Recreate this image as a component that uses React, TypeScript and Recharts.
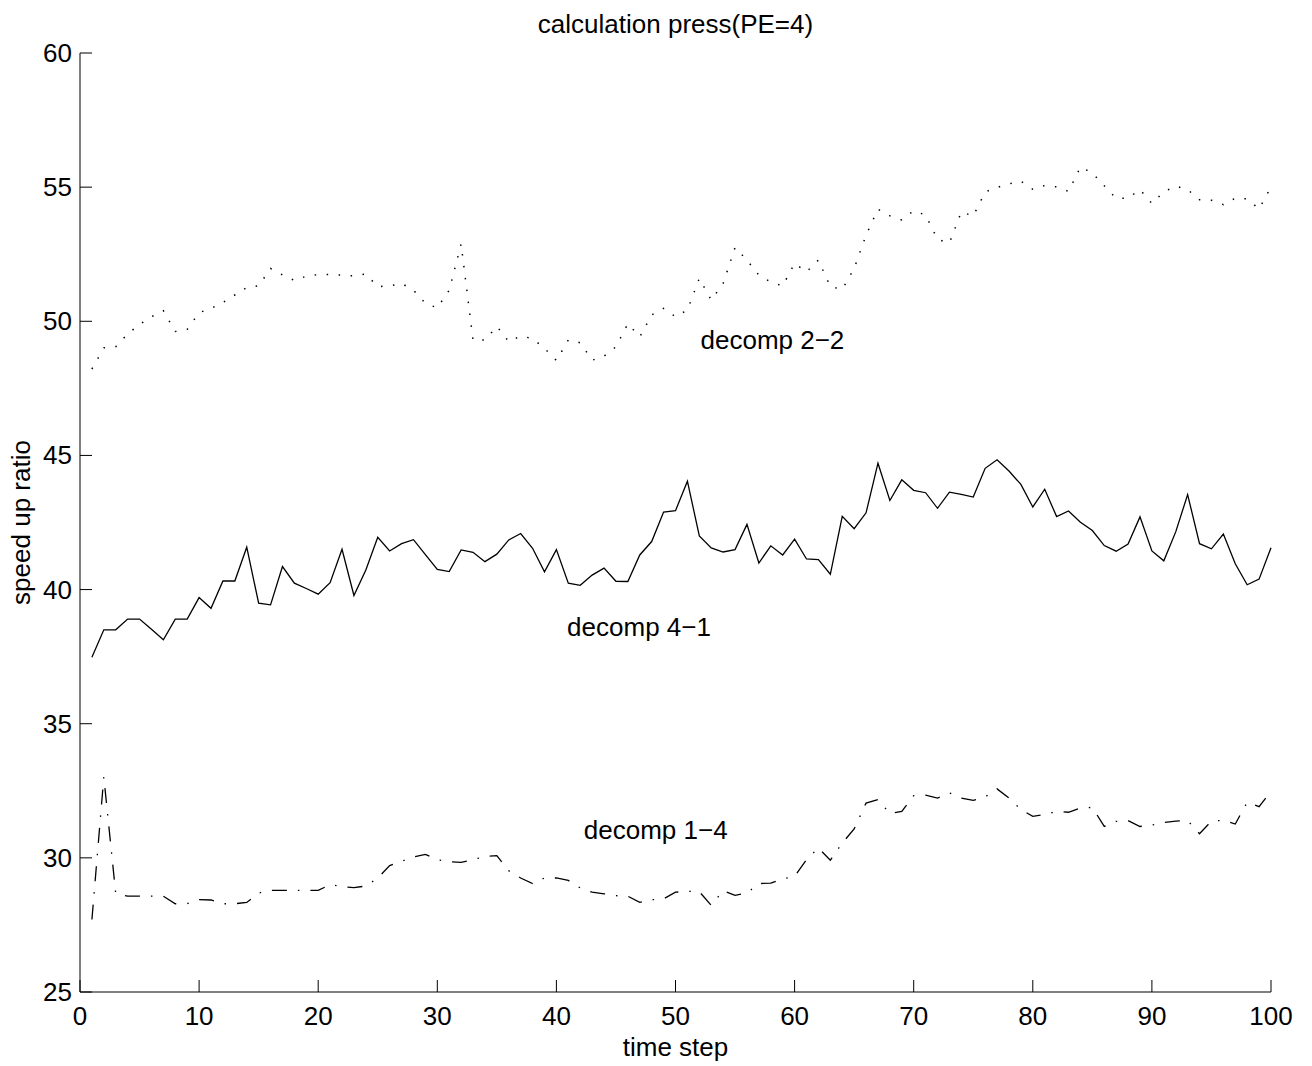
import React from 'react'
import { LineChart, Line, XAxis, YAxis, ReferenceDot, Label } from 'recharts'

const FONT = '"Liberation Sans", Arial, Helvetica, sans-serif'

// time steps 1..100
const steps = Array.from({ length: 100 }, (_, i) => i + 1)

const decomp22 = [
  48.22, 49.01, 49.05, 49.53, 49.88, 50.17, 50.39, 49.62, 49.70, 50.32,
  50.48, 50.70, 50.98, 51.26, 51.32, 51.97, 51.73, 51.52, 51.68, 51.74,
  51.74, 51.72, 51.69, 51.76, 51.29, 51.32, 51.41, 51.16, 50.67, 50.50,
  51.16, 52.88, 49.30, 49.30, 49.81, 49.24, 49.45, 49.36, 48.99, 48.54,
  49.30, 49.20, 48.55, 48.70, 49.05, 49.91, 49.42, 50.24, 50.48, 50.17,
  50.42, 51.60, 50.79, 51.41, 52.75, 52.28, 51.72, 51.46, 51.32, 52.16,
  51.84, 52.28, 51.29, 51.19, 51.97, 53.21, 54.18, 53.93, 53.78, 54.12,
  53.96, 53.05, 52.92, 54.08, 53.92, 54.82, 54.99, 55.12, 55.22, 54.92,
  55.06, 55.01, 54.84, 55.75, 55.53, 55.05, 54.58, 54.59, 54.91, 54.39,
  54.82, 55.04, 54.91, 54.53, 54.51, 54.35, 54.59, 54.56, 54.19, 55.01,
]

const decomp41 = [
  37.48, 38.50, 38.50, 38.90, 38.90, 38.52, 38.13, 38.90, 38.90, 39.70,
  39.30, 40.32, 40.32, 41.58, 39.49, 39.43, 40.86, 40.24, 40.04, 39.83,
  40.26, 41.50, 39.78, 40.73, 41.95, 41.44, 41.71, 41.86, 41.30, 40.75,
  40.67, 41.48, 41.39, 41.04, 41.32, 41.85, 42.09, 41.54, 40.66, 41.49,
  40.24, 40.16, 40.54, 40.80, 40.31, 40.30, 41.29, 41.79, 42.89, 42.94,
  44.04, 42.00, 41.55, 41.40, 41.49, 42.43, 40.99, 41.63, 41.29, 41.88,
  41.14, 41.12, 40.57, 42.73, 42.27, 42.86, 44.71, 43.32, 44.09, 43.70,
  43.61, 43.03, 43.63, 43.55, 43.45, 44.52, 44.84, 44.42, 43.92, 43.08,
  43.74, 42.72, 42.93, 42.51, 42.20, 41.64, 41.43, 41.70, 42.71, 41.44,
  41.07, 42.15, 43.54, 41.71, 41.52, 42.07, 40.96, 40.18, 40.39, 41.56,
]

const decomp14 = [
  27.70, 33.01, 28.67, 28.57, 28.57, 28.57, 28.57, 28.29, 28.29, 28.44,
  28.43, 28.29, 28.29, 28.34, 28.69, 28.79, 28.79, 28.79, 28.79, 28.79,
  29.00, 28.93, 28.89, 28.95, 29.25, 29.71, 29.87, 30.03, 30.13, 29.93,
  29.86, 29.83, 29.93, 30.06, 30.08, 29.52, 29.25, 29.04, 29.25, 29.25,
  29.16, 28.88, 28.72, 28.66, 28.59, 28.57, 28.34, 28.44, 28.47, 28.72,
  28.75, 28.74, 28.23, 28.78, 28.60, 28.69, 29.04, 29.06, 29.22, 29.31,
  29.93, 30.37, 29.91, 30.55, 31.08, 32.04, 32.17, 31.65, 31.73, 32.32,
  32.34, 32.23, 32.42, 32.23, 32.14, 32.27, 32.57, 32.23, 31.80, 31.55,
  31.61, 31.73, 31.70, 31.86, 31.88, 31.17, 31.36, 31.39, 31.17, 31.22,
  31.32, 31.37, 31.39, 30.90, 31.37, 31.40, 31.26, 32.07, 31.91, 32.48,
]

const xTicks = [0, 10, 20, 30, 40, 50, 60, 70, 80, 90, 100]
const yTicks = [25, 30, 35, 40, 45, 50, 55, 60]

// text labels placed next to each curve (left edge, vertical middle)
const curveLabels = [
  { text: 'decomp 2\u22122', x: 52.1, y: 49.3 },
  { text: 'decomp 4\u22121', x: 40.9, y: 38.6 },
  { text: 'decomp 1\u22124', x: 42.3, y: 31.05 },
]

const data = steps.map((step, i) => ({
  step,
  d22: decomp22[i],
  d41: decomp41[i],
  d14: decomp14[i],
}))

function XTick(props: any) {
  const { x, y, payload } = props
  return (
    <g>
      <line x1={x} y1={y} x2={x} y2={y - 12} stroke="#000" strokeWidth={1} />
      <text x={x} y={y + 33} textAnchor="middle" fontSize={26} fontFamily={FONT} fill="#000">
        {payload.value}
      </text>
    </g>
  )
}

function YTick(props: any) {
  const { x, y, payload } = props
  return (
    <g>
      <line x1={x} y1={y} x2={x + 12} y2={y} stroke="#000" strokeWidth={1} />
      <text x={x - 8} y={y + 9} textAnchor="end" fontSize={26} fontFamily={FONT} fill="#000">
        {payload.value}
      </text>
    </g>
  )
}

export default function App() {
  return (
    <div style={{ position: 'absolute', left: 0, top: 0, width: 1312, height: 1066, background: '#fff' }}>
      <div
        style={{
          position: 'absolute', left: 80, top: 11, width: 1191, textAlign: 'center',
          fontFamily: FONT, fontSize: 26, lineHeight: '26px', color: '#000',
        }}
      >
        calculation press(PE=4)
      </div>
      <LineChart width={1312} height={1066} data={data} margin={{ top: 53, right: 41, bottom: 0, left: 0 }}>
        <XAxis
          dataKey="step" type="number" domain={[0, 100]} ticks={xTicks} interval={0}
          height={74} tickSize={0} tickMargin={0} tickLine={false}
          axisLine={{ stroke: '#000', strokeWidth: 1 }} tick={<XTick />}
        >
          <Label
            content={(p: any) => (
              <text x={p.viewBox.x + p.viewBox.width / 2} y={p.viewBox.y + 64} textAnchor="middle"
                fontSize={26} fontFamily={FONT} fill="#000">time step</text>
            )}
          />
        </XAxis>
        <YAxis
          type="number" domain={[25, 60]} ticks={yTicks} interval={0}
          width={80} tickSize={0} tickMargin={0} tickLine={false}
          axisLine={{ stroke: '#000', strokeWidth: 1 }} tick={<YTick />}
        >
          <Label
            content={(p: any) => {
              const cy = p.viewBox.y + p.viewBox.height / 2
              return (
                <text x={30} y={cy} transform={`rotate(-90 30 ${cy})`} textAnchor="middle"
                  fontSize={26} fontFamily={FONT} fill="#000">speed up ratio</text>
              )
            }}
          />
        </YAxis>
        <Line dataKey="d22" stroke="#000" strokeWidth={1.5} strokeDasharray="1.5 10.5"
          dot={false} activeDot={false} isAnimationActive={false} />
        <Line dataKey="d41" stroke="#000" strokeWidth={1.3}
          dot={false} activeDot={false} isAnimationActive={false} />
        <Line dataKey="d14" stroke="#000" strokeWidth={1.3} strokeDasharray="15 11 1.5 11"
          dot={false} activeDot={false} isAnimationActive={false} />
        {curveLabels.map((l) => (
          <ReferenceDot key={l.text} x={l.x} y={l.y} r={0} fill="none" stroke="none">
            <Label
              content={(p: any) => (
                <text x={p.viewBox.x} y={p.viewBox.y + 9} textAnchor="start"
                  fontSize={26} fontFamily={FONT} fill="#000">{l.text}</text>
              )}
            />
          </ReferenceDot>
        ))}
      </LineChart>
    </div>
  )
}
